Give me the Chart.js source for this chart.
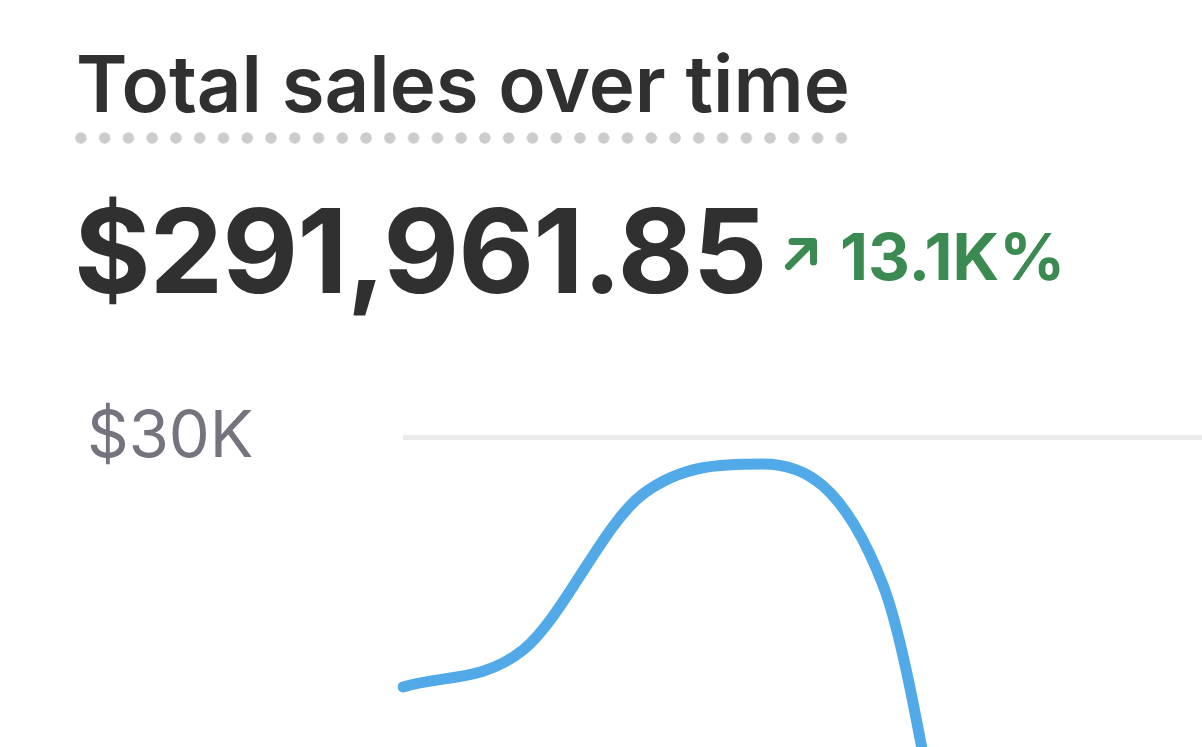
<!DOCTYPE html>
<html>
<head>
<meta charset="utf-8">
<script src="https://cdn.jsdelivr.net/npm/chart.js@4.4.1/dist/chart.umd.min.js"></script>
<style>
  html, body { margin: 0; padding: 0; background: #fff; overflow: hidden; width: 1202px; height: 747px; }
  body { position: relative; font-family: Inter, "Noto Sans", sans-serif; }
  .title { position: absolute; left: 76px; top: 45px; font-size: 78px; line-height: 1; font-weight: 600; color: #303030; white-space: nowrap; }
  .dots { position: absolute; left: 68.8px; top: 132.3px; width: 784.7px; height: 12px;
    background-image: radial-gradient(circle, #cccccc 5.3px, rgba(204,204,204,0) 6px);
    background-size: 23.78px 12px; background-repeat: repeat-x; }
  .total { position: absolute; left: 74px; top: 192px; font-size: 117px; line-height: 1; font-weight: 700; color: #303030; white-space: nowrap; letter-spacing: -1px; }
  .arrow { position: absolute; left: 783px; top: 235px; }
  .change { position: absolute; left: 840px; top: 224px; font-size: 65px; line-height: 1; font-weight: 700; color: #3b8a51; white-space: nowrap; }
  #chart { position: absolute; left: 0; top: 380px; }
</style>
</head>
<body>
<div class="title">Total sales over time</div>
<div class="dots"></div>
<div class="total">$291,961.85</div>
<svg class="arrow" width="40" height="40" viewBox="0 0 40 40">
  <path d="M5.5 31.5 L29 8 M9 6.5 L30.5 6.5 L30.5 27" fill="none" stroke="#3b8a51" stroke-width="7" stroke-linecap="round" stroke-linejoin="round"/>
</svg>
<div class="change">13.1K%</div>
<canvas id="chart" width="1250" height="1607"></canvas>
<script>
const days = ["Jan 1", "Jan 2", "Jan 3", "Jan 4", "Jan 5", "Jan 6", "Jan 7", "Jan 8"];
// only the part of the series that shows in the picture
const sales = [25000, 25740, 28860, 29460, 27040, 17120, 16640];
const yTicks = [0, 10000, 20000, 30000];

Chart.defaults.font.family = "Inter";

const ctx = document.querySelector("#chart");

new Chart(ctx, {
  type: "line",
  data: {
    labels: days,
    datasets: [
      {
        label: "Total sales",
        data: sales,
        borderColor: "#52a9e8",
        borderWidth: 11,
        borderCapStyle: "round",
        borderJoinStyle: "round",
        pointRadius: 0,
        fill: false,
        cubicInterpolationMode: "monotone",
      },
    ],
  },
  options: {
    responsive: false,
    animation: false,
    layout: {
      padding: { left: 87, top: 57, right: 7, bottom: 50 },
    },
    plugins: {
      legend: { display: false },
      tooltip: { enabled: false },
    },
    scales: {
      x: { display: false },
      y: {
        min: yTicks[0],
        max: yTicks[yTicks.length - 1],
        afterBuildTicks: (scale) => {
          scale.ticks = yTicks.map((v) => ({ value: v }));
        },
        afterFit: (scale) => {
          scale.width = 316;
        },
        border: { display: false },
        grid: {
          color: "#ebebeb",
          lineWidth: 5,
          drawTicks: false,
        },
        ticks: {
          crossAlign: "far",
          padding: 0,
          color: "#75737e",
          font: { size: 65, weight: 400 },
          callback: (value) => (value === 0 ? "$0" : "$" + value / 1000 + "K"),
        },
      },
    },
  },
});
</script>
</body>
</html>
